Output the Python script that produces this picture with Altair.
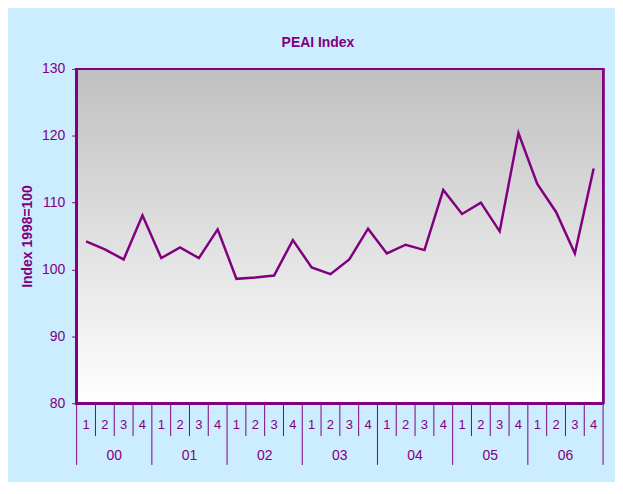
import altair as alt
import pandas as pd

years = ["00", "01", "02", "03", "04", "05", "06"]
quarters = ["1", "2", "3", "4"]
values = [104.2, 103.0, 101.5, 108.1,
          101.7, 103.3, 101.7, 106.0,
          98.6, 98.8, 99.1, 104.4,
          100.3, 99.3, 101.5, 106.1,
          102.4, 103.7, 102.9, 111.9,
          108.3, 110.0, 105.7, 120.4,
          112.8, 108.6, 102.4, 115.1]

PURPLE = "#800080"
FONT = "Liberation Sans"
W, H = 529, 336

rows = []
for yi, yr in enumerate(years):
    for qi, q in enumerate(quarters):
        i = yi * 4 + qi
        rows.append({"pos": i + 0.5, "quarter": q, "year": yr, "value": values[i]})
df = pd.DataFrame(rows)

n = len(values)
sep_q = pd.DataFrame({"pos": [i for i in range(n + 1) if i % 4 != 0]})
sep_y = pd.DataFrame({"pos": [i for i in range(n + 1) if i % 4 == 0]})
year_df = pd.DataFrame({"pos": [yi * 4 + 2 for yi in range(len(years))], "year": years})

xscale = alt.Scale(domain=[0, n], nice=False, zero=False)
xenc = alt.X("pos:Q", scale=xscale, axis=None)

bg = alt.Chart(df).mark_rect(
    color=alt.LinearGradient(
        gradient="linear",
        stops=[alt.GradientStop(color="#C0C0C0", offset=0),
               alt.GradientStop(color="#FFFFFF", offset=1)],
        x1=0, x2=0, y1=0, y2=1,
    )
).encode(x=alt.value(0), x2=alt.value(W), y=alt.value(0), y2=alt.value(H))

line = alt.Chart(df).mark_line(color=PURPLE, strokeWidth=2.5).encode(
    x=xenc,
    y=alt.Y("value:Q",
            scale=alt.Scale(domain=[80, 130], nice=False, zero=False),
            axis=alt.Axis(values=[80, 90, 100, 110, 120, 130], title="Index 1998=100",
                          grid=False, domain=False, tickColor=PURPLE, tickSize=5,
                          labelColor=PURPLE, labelFontSize=14, labelFont=FONT,
                          labelPadding=7, titleColor=PURPLE, titleFont=FONT,
                          titleFontSize=14, titleFontWeight="bold", titlePadding=7)),
)

border = alt.Chart(df).mark_rect(filled=False, stroke=PURPLE, strokeWidth=2).encode(
    x=alt.value(0), x2=alt.value(W), y=alt.value(0), y2=alt.value(H))

qsep = alt.Chart(sep_q).mark_rule(color=PURPLE, strokeWidth=1).encode(
    x=xenc, y=alt.value(H), y2=alt.value(H + 33))
ysep = alt.Chart(sep_y).mark_rule(color=PURPLE, strokeWidth=1).encode(
    x=xenc, y=alt.value(H), y2=alt.value(H + 62))

qlab = alt.Chart(df).mark_text(color=PURPLE, fontSize=13, font=FONT, baseline="middle").encode(
    x=xenc, y=alt.value(H + 22), text="quarter:N")
ylab = alt.Chart(year_df).mark_text(color=PURPLE, fontSize=14, font=FONT, baseline="middle").encode(
    x=xenc, y=alt.value(H + 53), text="year:N")

chart = alt.layer(bg, line, border, qsep, ysep, qlab, ylab).properties(
    width=W, height=H,
    title=alt.TitleParams("PEAI Index", color=PURPLE, font=FONT, fontSize=14,
                          fontWeight="bold", anchor="middle", dx=-22, offset=12),
    background="#CCECFF",
    autosize=alt.AutoSizeParams(type="none"),
    padding={"left": 69, "top": 60, "right": 12, "bottom": 78},
).configure_view(stroke=None)

chart.save("out.html", embed_options={"renderer": "svg", "actions": False})
